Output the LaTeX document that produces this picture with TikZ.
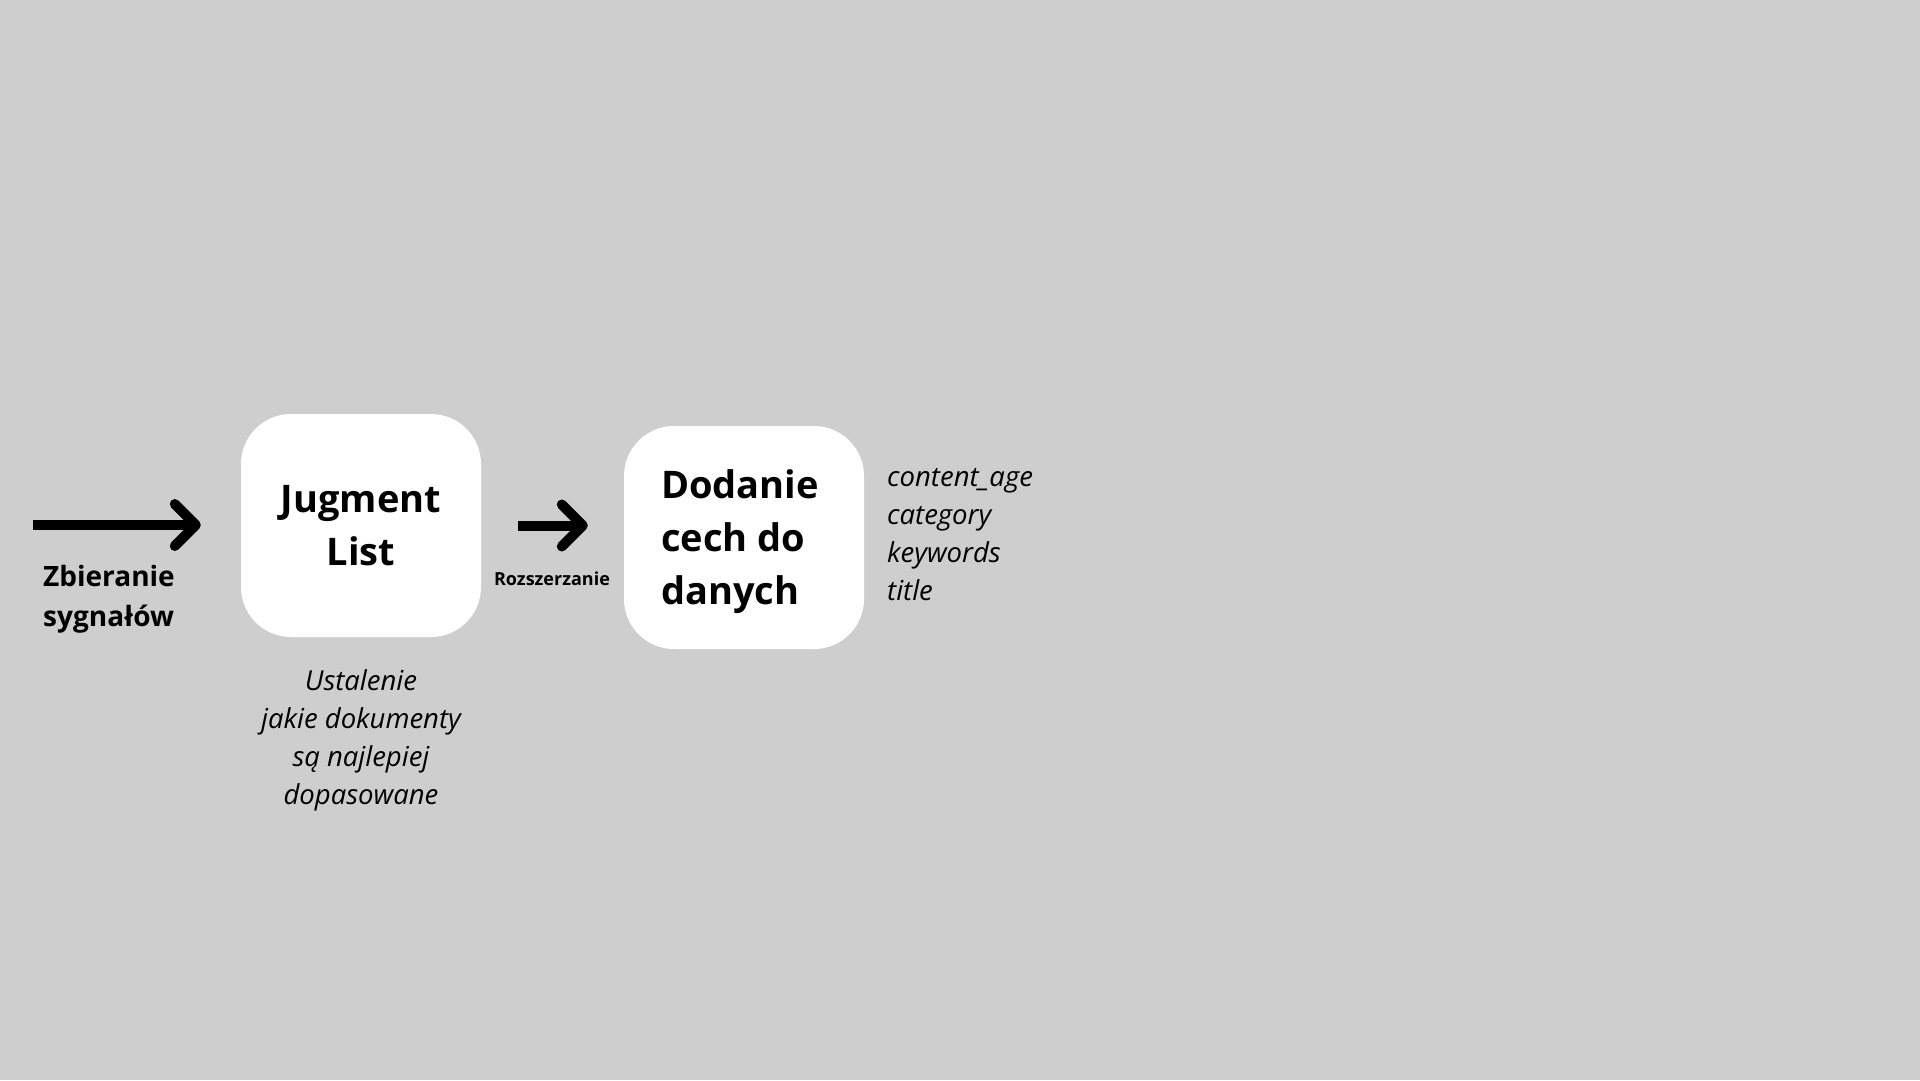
\documentclass[tikz,border=0pt]{standalone}
\usepackage{fontspec}
\setmainfont{Open Sans}
\usetikzlibrary{arrows.meta}
\definecolor{bg}{RGB}{206,206,206}
\tikzset{
  box/.style={fill=white, draw=none, rounded corners=50pt, minimum width=240pt, minimum height=223pt, inner sep=0pt},
  bigtxt/.style={font=\fontsize{38}{53}\selectfont\bfseries},
  lbl/.style={inner sep=0pt, font=\fontsize{28}{39.5}\selectfont\bfseries},
  note/.style={inner sep=0pt, font=\fontsize{27.5}{38}\selectfont\itshape},
  small/.style={inner sep=0pt, font=\fontsize{18}{24}\selectfont\bfseries},
  arr/.style={line width=10pt, -{Straight Barb[length=21pt,width=42pt,round]}}
}
\begin{document}
\begin{tikzpicture}[x=1pt,y=-1pt]
\fill[bg] (0,0) rectangle (1920,1080);
\useasboundingbox (0,0) rectangle (1920,1080);
\node[box] (box1) at (361,525.5) {};
\node[bigtxt, align=center, inner sep=0pt] (t1) at (361,526) {Jugment\\List};
\node[box] (box2) at (744,537.5) {};
\node[bigtxt, align=left, inner sep=0pt, anchor=west] (t2) at (661,542) {Dodanie\\cech do\\danych};
\coordinate (s1) at (33,525);
\draw[arr, shorten >=40pt] (s1) -- (s1 -| box1.west);
\draw[arr, shorten <=37pt, shorten >=36pt] (box1.east) -- (box1.east -| box2.west);
\node[lbl, anchor=west, align=left] (zb) at (43,599) {Zbieranie\\sygnałów};
\node[small] (roz) at (552,579) {Rozszerzanie};
\node[note, anchor=west, align=left] (feat) at (887,535) {content\_age\\category\\keywords\\title};
\node[note, align=center] (ust) at (361,740.5) {Ustalenie\\jakie dokumenty\\są najlepiej\\dopasowane};
\end{tikzpicture}
\end{document}
